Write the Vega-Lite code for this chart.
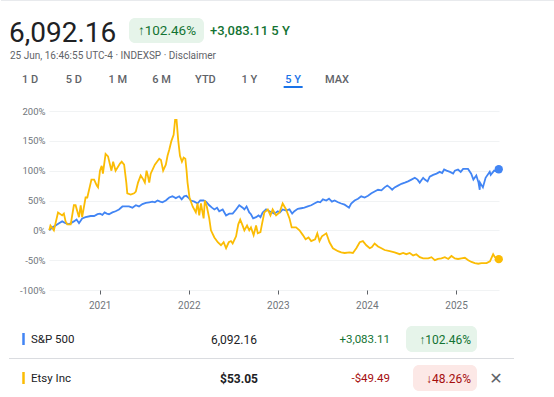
{
  "$schema": "https://vega.github.io/schema/vega-lite/v6.json",
  "padding": 0,
  "background": "white",
  "spacing": 0,
  "config": {"view": {"stroke": null}, "font": "Roboto", "concat": {"spacing": 0}},
  "datasets": {
    "prices": [
      {"stock":"S&P 500","date":"2020-06-08","pct":0},{"stock":"S&P 500","date":"2020-06-21","pct":5},{"stock":"S&P 500","date":"2020-07-04","pct":8},{"stock":"S&P 500","date":"2020-07-18","pct":12},{"stock":"S&P 500","date":"2020-07-31","pct":15},{"stock":"S&P 500","date":"2020-08-14","pct":12},{"stock":"S&P 500","date":"2020-08-28","pct":10},{"stock":"S&P 500","date":"2020-09-17","pct":15},{"stock":"S&P 500","date":"2020-09-28","pct":18},{"stock":"S&P 500","date":"2020-10-08","pct":12},{"stock":"S&P 500","date":"2020-10-21","pct":20},{"stock":"S&P 500","date":"2020-11-04","pct":22},{"stock":"S&P 500","date":"2020-11-25","pct":24},{"stock":"S&P 500","date":"2020-12-09","pct":24},{"stock":"S&P 500","date":"2020-12-23","pct":27},
      {"stock":"S&P 500","date":"2021-01-02","pct":28},{"stock":"S&P 500","date":"2021-01-12","pct":26},{"stock":"S&P 500","date":"2021-01-21","pct":30},{"stock":"S&P 500","date":"2021-01-30","pct":28},{"stock":"S&P 500","date":"2021-02-08","pct":27},{"stock":"S&P 500","date":"2021-02-22","pct":30},{"stock":"S&P 500","date":"2021-03-07","pct":32},{"stock":"S&P 500","date":"2021-03-21","pct":35},{"stock":"S&P 500","date":"2021-04-04","pct":40},{"stock":"S&P 500","date":"2021-04-17","pct":40},{"stock":"S&P 500","date":"2021-05-01","pct":40},{"stock":"S&P 500","date":"2021-05-15","pct":38},{"stock":"S&P 500","date":"2021-05-29","pct":42},{"stock":"S&P 500","date":"2021-06-11","pct":40},{"stock":"S&P 500","date":"2021-06-25","pct":44},{"stock":"S&P 500","date":"2021-07-09","pct":46},{"stock":"S&P 500","date":"2021-07-23","pct":47},{"stock":"S&P 500","date":"2021-08-05","pct":48},{"stock":"S&P 500","date":"2021-08-15","pct":47},{"stock":"S&P 500","date":"2021-08-26","pct":50},{"stock":"S&P 500","date":"2021-09-06","pct":48},{"stock":"S&P 500","date":"2021-09-15","pct":47},{"stock":"S&P 500","date":"2021-09-29","pct":50},{"stock":"S&P 500","date":"2021-10-13","pct":55},{"stock":"S&P 500","date":"2021-10-26","pct":57},{"stock":"S&P 500","date":"2021-11-09","pct":54},{"stock":"S&P 500","date":"2021-11-23","pct":57},{"stock":"S&P 500","date":"2021-12-03","pct":52},{"stock":"S&P 500","date":"2021-12-13","pct":57},{"stock":"S&P 500","date":"2021-12-22","pct":58},{"stock":"S&P 500","date":"2021-12-30","pct":55},
      {"stock":"S&P 500","date":"2022-01-10","pct":50},{"stock":"S&P 500","date":"2022-01-24","pct":48},{"stock":"S&P 500","date":"2022-02-06","pct":45},{"stock":"S&P 500","date":"2022-02-17","pct":50},{"stock":"S&P 500","date":"2022-03-03","pct":50},{"stock":"S&P 500","date":"2022-03-13","pct":48},{"stock":"S&P 500","date":"2022-03-26","pct":42},{"stock":"S&P 500","date":"2022-04-06","pct":38},{"stock":"S&P 500","date":"2022-04-16","pct":35},{"stock":"S&P 500","date":"2022-04-27","pct":38},{"stock":"S&P 500","date":"2022-05-06","pct":32},{"stock":"S&P 500","date":"2022-05-20","pct":35},{"stock":"S&P 500","date":"2022-06-03","pct":25},{"stock":"S&P 500","date":"2022-06-16","pct":28},{"stock":"S&P 500","date":"2022-06-30","pct":28},{"stock":"S&P 500","date":"2022-07-14","pct":35},{"stock":"S&P 500","date":"2022-07-27","pct":42},{"stock":"S&P 500","date":"2022-08-10","pct":38},{"stock":"S&P 500","date":"2022-08-17","pct":35},{"stock":"S&P 500","date":"2022-08-26","pct":40},{"stock":"S&P 500","date":"2022-09-06","pct":30},{"stock":"S&P 500","date":"2022-09-13","pct":27},{"stock":"S&P 500","date":"2022-09-22","pct":20},{"stock":"S&P 500","date":"2022-10-04","pct":22},{"stock":"S&P 500","date":"2022-10-14","pct":25},{"stock":"S&P 500","date":"2022-10-22","pct":22},{"stock":"S&P 500","date":"2022-10-31","pct":30},{"stock":"S&P 500","date":"2022-11-14","pct":35},{"stock":"S&P 500","date":"2022-11-28","pct":32},{"stock":"S&P 500","date":"2022-12-09","pct":30},{"stock":"S&P 500","date":"2022-12-18","pct":28},
      {"stock":"S&P 500","date":"2023-01-01","pct":32},{"stock":"S&P 500","date":"2023-01-10","pct":30},{"stock":"S&P 500","date":"2023-01-21","pct":35},{"stock":"S&P 500","date":"2023-02-04","pct":33},{"stock":"S&P 500","date":"2023-02-18","pct":35},{"stock":"S&P 500","date":"2023-03-01","pct":28},{"stock":"S&P 500","date":"2023-03-10","pct":32},{"stock":"S&P 500","date":"2023-03-24","pct":36},{"stock":"S&P 500","date":"2023-04-07","pct":37},{"stock":"S&P 500","date":"2023-04-20","pct":38},{"stock":"S&P 500","date":"2023-05-04","pct":40},{"stock":"S&P 500","date":"2023-05-18","pct":42},{"stock":"S&P 500","date":"2023-05-31","pct":45},{"stock":"S&P 500","date":"2023-06-14","pct":48},{"stock":"S&P 500","date":"2023-06-24","pct":47},{"stock":"S&P 500","date":"2023-07-05","pct":52},{"stock":"S&P 500","date":"2023-07-19","pct":50},{"stock":"S&P 500","date":"2023-07-30","pct":53},{"stock":"S&P 500","date":"2023-08-11","pct":48},{"stock":"S&P 500","date":"2023-08-22","pct":50},{"stock":"S&P 500","date":"2023-09-05","pct":47},{"stock":"S&P 500","date":"2023-09-18","pct":45},{"stock":"S&P 500","date":"2023-10-02","pct":43},{"stock":"S&P 500","date":"2023-10-13","pct":40},{"stock":"S&P 500","date":"2023-10-20","pct":38},{"stock":"S&P 500","date":"2023-10-29","pct":45},{"stock":"S&P 500","date":"2023-11-12","pct":50},{"stock":"S&P 500","date":"2023-11-26","pct":53},{"stock":"S&P 500","date":"2023-12-09","pct":57},{"stock":"S&P 500","date":"2023-12-23","pct":55},
      {"stock":"S&P 500","date":"2024-01-06","pct":58},{"stock":"S&P 500","date":"2024-01-20","pct":62},{"stock":"S&P 500","date":"2024-02-02","pct":65},{"stock":"S&P 500","date":"2024-02-16","pct":68},{"stock":"S&P 500","date":"2024-03-01","pct":67},{"stock":"S&P 500","date":"2024-03-14","pct":72},{"stock":"S&P 500","date":"2024-03-25","pct":75},{"stock":"S&P 500","date":"2024-04-04","pct":72},{"stock":"S&P 500","date":"2024-04-14","pct":68},{"stock":"S&P 500","date":"2024-04-24","pct":72},{"stock":"S&P 500","date":"2024-05-08","pct":75},{"stock":"S&P 500","date":"2024-05-22","pct":78},{"stock":"S&P 500","date":"2024-06-05","pct":80},{"stock":"S&P 500","date":"2024-06-18","pct":82},{"stock":"S&P 500","date":"2024-07-02","pct":85},{"stock":"S&P 500","date":"2024-07-16","pct":88},{"stock":"S&P 500","date":"2024-07-27","pct":85},{"stock":"S&P 500","date":"2024-08-05","pct":80},{"stock":"S&P 500","date":"2024-08-19","pct":88},{"stock":"S&P 500","date":"2024-08-26","pct":85},{"stock":"S&P 500","date":"2024-09-06","pct":82},{"stock":"S&P 500","date":"2024-09-15","pct":90},{"stock":"S&P 500","date":"2024-09-29","pct":93},{"stock":"S&P 500","date":"2024-10-13","pct":95},{"stock":"S&P 500","date":"2024-10-26","pct":98},{"stock":"S&P 500","date":"2024-11-05","pct":96},{"stock":"S&P 500","date":"2024-11-13","pct":102},{"stock":"S&P 500","date":"2024-11-23","pct":100},{"stock":"S&P 500","date":"2024-12-07","pct":98},{"stock":"S&P 500","date":"2024-12-20","pct":95},{"stock":"S&P 500","date":"2024-12-27","pct":100},
      {"stock":"S&P 500","date":"2025-01-09","pct":102},{"stock":"S&P 500","date":"2025-01-20","pct":98},{"stock":"S&P 500","date":"2025-01-30","pct":103},{"stock":"S&P 500","date":"2025-02-19","pct":103},{"stock":"S&P 500","date":"2025-03-04","pct":95},{"stock":"S&P 500","date":"2025-03-13","pct":85},{"stock":"S&P 500","date":"2025-03-25","pct":92},{"stock":"S&P 500","date":"2025-04-03","pct":80},{"stock":"S&P 500","date":"2025-04-08","pct":68},{"stock":"S&P 500","date":"2025-04-09","pct":80},{"stock":"S&P 500","date":"2025-04-21","pct":72},{"stock":"S&P 500","date":"2025-05-02","pct":88},{"stock":"S&P 500","date":"2025-05-19","pct":98},{"stock":"S&P 500","date":"2025-05-23","pct":93},{"stock":"S&P 500","date":"2025-06-06","pct":100},{"stock":"S&P 500","date":"2025-06-13","pct":99},{"stock":"S&P 500","date":"2025-06-25","pct":102.46},

      {"stock":"Etsy Inc","date":"2020-06-08","pct":0},{"stock":"Etsy Inc","date":"2020-06-13","pct":8},{"stock":"Etsy Inc","date":"2020-06-27","pct":0},{"stock":"Etsy Inc","date":"2020-07-14","pct":30},{"stock":"Etsy Inc","date":"2020-07-31","pct":25},{"stock":"Etsy Inc","date":"2020-08-07","pct":28},{"stock":"Etsy Inc","date":"2020-08-14","pct":15},{"stock":"Etsy Inc","date":"2020-08-21","pct":10},{"stock":"Etsy Inc","date":"2020-09-04","pct":10},{"stock":"Etsy Inc","date":"2020-09-17","pct":42},{"stock":"Etsy Inc","date":"2020-09-24","pct":42},{"stock":"Etsy Inc","date":"2020-10-08","pct":22},{"stock":"Etsy Inc","date":"2020-10-15","pct":42},{"stock":"Etsy Inc","date":"2020-10-21","pct":22},{"stock":"Etsy Inc","date":"2020-11-04","pct":55},{"stock":"Etsy Inc","date":"2020-11-11","pct":55},{"stock":"Etsy Inc","date":"2020-11-28","pct":85},{"stock":"Etsy Inc","date":"2020-12-09","pct":85},{"stock":"Etsy Inc","date":"2020-12-20","pct":75},{"stock":"Etsy Inc","date":"2020-12-25","pct":72},
      {"stock":"Etsy Inc","date":"2021-01-02","pct":100},{"stock":"Etsy Inc","date":"2021-01-09","pct":108},{"stock":"Etsy Inc","date":"2021-01-14","pct":95},{"stock":"Etsy Inc","date":"2021-01-25","pct":128},{"stock":"Etsy Inc","date":"2021-02-04","pct":124},{"stock":"Etsy Inc","date":"2021-02-18","pct":100},{"stock":"Etsy Inc","date":"2021-02-25","pct":115},{"stock":"Etsy Inc","date":"2021-03-07","pct":100},{"stock":"Etsy Inc","date":"2021-03-25","pct":112},{"stock":"Etsy Inc","date":"2021-04-01","pct":115},{"stock":"Etsy Inc","date":"2021-04-11","pct":110},{"stock":"Etsy Inc","date":"2021-04-20","pct":80},{"stock":"Etsy Inc","date":"2021-04-24","pct":62},{"stock":"Etsy Inc","date":"2021-05-08","pct":60},{"stock":"Etsy Inc","date":"2021-05-22","pct":62},{"stock":"Etsy Inc","date":"2021-05-29","pct":65},{"stock":"Etsy Inc","date":"2021-06-07","pct":80},{"stock":"Etsy Inc","date":"2021-06-18","pct":92},{"stock":"Etsy Inc","date":"2021-06-29","pct":85},{"stock":"Etsy Inc","date":"2021-07-05","pct":80},{"stock":"Etsy Inc","date":"2021-07-12","pct":100},{"stock":"Etsy Inc","date":"2021-07-17","pct":92},{"stock":"Etsy Inc","date":"2021-07-23","pct":80},{"stock":"Etsy Inc","date":"2021-07-29","pct":95},{"stock":"Etsy Inc","date":"2021-08-15","pct":110},{"stock":"Etsy Inc","date":"2021-09-02","pct":120},{"stock":"Etsy Inc","date":"2021-09-09","pct":118},{"stock":"Etsy Inc","date":"2021-09-18","pct":100},{"stock":"Etsy Inc","date":"2021-09-29","pct":110},{"stock":"Etsy Inc","date":"2021-10-06","pct":125},{"stock":"Etsy Inc","date":"2021-10-13","pct":135},{"stock":"Etsy Inc","date":"2021-10-22","pct":150},{"stock":"Etsy Inc","date":"2021-10-31","pct":160},{"stock":"Etsy Inc","date":"2021-11-06","pct":185},{"stock":"Etsy Inc","date":"2021-11-12","pct":185},{"stock":"Etsy Inc","date":"2021-11-19","pct":150},{"stock":"Etsy Inc","date":"2021-11-26","pct":125},{"stock":"Etsy Inc","date":"2021-12-04","pct":115},{"stock":"Etsy Inc","date":"2021-12-11","pct":122},{"stock":"Etsy Inc","date":"2021-12-18","pct":120},{"stock":"Etsy Inc","date":"2021-12-23","pct":100},{"stock":"Etsy Inc","date":"2021-12-27","pct":80},
      {"stock":"Etsy Inc","date":"2022-01-04","pct":55},{"stock":"Etsy Inc","date":"2022-01-17","pct":40},{"stock":"Etsy Inc","date":"2022-01-30","pct":30},{"stock":"Etsy Inc","date":"2022-02-06","pct":45},{"stock":"Etsy Inc","date":"2022-02-13","pct":25},{"stock":"Etsy Inc","date":"2022-02-20","pct":45},{"stock":"Etsy Inc","date":"2022-03-03","pct":20},{"stock":"Etsy Inc","date":"2022-03-08","pct":50},{"stock":"Etsy Inc","date":"2022-03-16","pct":40},{"stock":"Etsy Inc","date":"2022-03-26","pct":20},{"stock":"Etsy Inc","date":"2022-04-02","pct":0},{"stock":"Etsy Inc","date":"2022-04-16","pct":-12},{"stock":"Etsy Inc","date":"2022-04-30","pct":-20},{"stock":"Etsy Inc","date":"2022-05-13","pct":-25},{"stock":"Etsy Inc","date":"2022-05-24","pct":-20},{"stock":"Etsy Inc","date":"2022-06-03","pct":-30},{"stock":"Etsy Inc","date":"2022-06-14","pct":-20},{"stock":"Etsy Inc","date":"2022-06-23","pct":-18},{"stock":"Etsy Inc","date":"2022-06-30","pct":-22},{"stock":"Etsy Inc","date":"2022-07-14","pct":-10},{"stock":"Etsy Inc","date":"2022-07-23","pct":10},{"stock":"Etsy Inc","date":"2022-07-31","pct":18},{"stock":"Etsy Inc","date":"2022-08-08","pct":10},{"stock":"Etsy Inc","date":"2022-08-17","pct":0},{"stock":"Etsy Inc","date":"2022-08-28","pct":8},{"stock":"Etsy Inc","date":"2022-09-06","pct":0},{"stock":"Etsy Inc","date":"2022-09-13","pct":5},{"stock":"Etsy Inc","date":"2022-09-24","pct":-8},{"stock":"Etsy Inc","date":"2022-10-04","pct":8},{"stock":"Etsy Inc","date":"2022-10-11","pct":-5},{"stock":"Etsy Inc","date":"2022-10-22","pct":-3},{"stock":"Etsy Inc","date":"2022-10-28","pct":10},{"stock":"Etsy Inc","date":"2022-11-07","pct":30},{"stock":"Etsy Inc","date":"2022-11-21","pct":35},{"stock":"Etsy Inc","date":"2022-12-02","pct":25},{"stock":"Etsy Inc","date":"2022-12-11","pct":35},{"stock":"Etsy Inc","date":"2022-12-25","pct":25},
      {"stock":"Etsy Inc","date":"2023-01-08","pct":30},{"stock":"Etsy Inc","date":"2023-01-21","pct":45},{"stock":"Etsy Inc","date":"2023-02-04","pct":35},{"stock":"Etsy Inc","date":"2023-02-18","pct":20},{"stock":"Etsy Inc","date":"2023-02-27","pct":5},{"stock":"Etsy Inc","date":"2023-03-17","pct":5},{"stock":"Etsy Inc","date":"2023-03-31","pct":0},{"stock":"Etsy Inc","date":"2023-04-14","pct":-8},{"stock":"Etsy Inc","date":"2023-04-25","pct":-15},{"stock":"Etsy Inc","date":"2023-05-07","pct":-12},{"stock":"Etsy Inc","date":"2023-05-18","pct":-18},{"stock":"Etsy Inc","date":"2023-06-03","pct":-15},{"stock":"Etsy Inc","date":"2023-06-12","pct":-5},{"stock":"Etsy Inc","date":"2023-06-21","pct":-18},{"stock":"Etsy Inc","date":"2023-07-01","pct":-10},{"stock":"Etsy Inc","date":"2023-07-19","pct":-5},{"stock":"Etsy Inc","date":"2023-08-01","pct":-20},{"stock":"Etsy Inc","date":"2023-08-15","pct":-30},{"stock":"Etsy Inc","date":"2023-09-05","pct":-35},{"stock":"Etsy Inc","date":"2023-09-18","pct":-37},{"stock":"Etsy Inc","date":"2023-10-02","pct":-38},{"stock":"Etsy Inc","date":"2023-10-22","pct":-37},{"stock":"Etsy Inc","date":"2023-11-05","pct":-38},{"stock":"Etsy Inc","date":"2023-11-19","pct":-30},{"stock":"Etsy Inc","date":"2023-12-03","pct":-20},{"stock":"Etsy Inc","date":"2023-12-16","pct":-18},{"stock":"Etsy Inc","date":"2023-12-30","pct":-25},
      {"stock":"Etsy Inc","date":"2024-01-13","pct":-30},{"stock":"Etsy Inc","date":"2024-01-22","pct":-28},{"stock":"Etsy Inc","date":"2024-02-02","pct":-22},{"stock":"Etsy Inc","date":"2024-02-16","pct":-27},{"stock":"Etsy Inc","date":"2024-03-01","pct":-30},{"stock":"Etsy Inc","date":"2024-03-14","pct":-33},{"stock":"Etsy Inc","date":"2024-04-04","pct":-35},{"stock":"Etsy Inc","date":"2024-04-24","pct":-37},{"stock":"Etsy Inc","date":"2024-05-15","pct":-40},{"stock":"Etsy Inc","date":"2024-05-29","pct":-38},{"stock":"Etsy Inc","date":"2024-06-11","pct":-40},{"stock":"Etsy Inc","date":"2024-06-25","pct":-38},{"stock":"Etsy Inc","date":"2024-07-09","pct":-42},{"stock":"Etsy Inc","date":"2024-07-22","pct":-40},{"stock":"Etsy Inc","date":"2024-08-05","pct":-45},{"stock":"Etsy Inc","date":"2024-08-19","pct":-47},{"stock":"Etsy Inc","date":"2024-09-09","pct":-47},{"stock":"Etsy Inc","date":"2024-09-22","pct":-45},{"stock":"Etsy Inc","date":"2024-10-06","pct":-50},{"stock":"Etsy Inc","date":"2024-10-19","pct":-48},{"stock":"Etsy Inc","date":"2024-11-02","pct":-47},{"stock":"Etsy Inc","date":"2024-11-16","pct":-45},{"stock":"Etsy Inc","date":"2024-11-30","pct":-48},{"stock":"Etsy Inc","date":"2024-12-13","pct":-43},{"stock":"Etsy Inc","date":"2024-12-27","pct":-47},
      {"stock":"Etsy Inc","date":"2025-01-09","pct":-48},{"stock":"Etsy Inc","date":"2025-01-23","pct":-47},{"stock":"Etsy Inc","date":"2025-02-06","pct":-46},{"stock":"Etsy Inc","date":"2025-02-20","pct":-50},{"stock":"Etsy Inc","date":"2025-03-05","pct":-53},{"stock":"Etsy Inc","date":"2025-03-19","pct":-55},{"stock":"Etsy Inc","date":"2025-04-02","pct":-56},{"stock":"Etsy Inc","date":"2025-04-15","pct":-55},{"stock":"Etsy Inc","date":"2025-05-06","pct":-55},{"stock":"Etsy Inc","date":"2025-05-20","pct":-52},{"stock":"Etsy Inc","date":"2025-06-02","pct":-40},{"stock":"Etsy Inc","date":"2025-06-09","pct":-45},{"stock":"Etsy Inc","date":"2025-06-25","pct":-48.26}
    ],
    "table": [
      {"name":"S&P 500","price":"6,092.16","change":"+3,083.11","pct":"↑102.46%"},
      {"name":"Etsy Inc","price":"$53.05","change":"-$49.49","pct":"↓48.26%"}
    ],
    "tabs": [{"tab":"1 D"},{"tab":"5 D"},{"tab":"1 M"},{"tab":"6 M"},{"tab":"YTD"},{"tab":"1 Y"},{"tab":"5 Y"},{"tab":"MAX"}]
  },
  "vconcat": [
    {
      "width": 506,
      "height": 106,
      "layer": [
        {"data": {"values": [{}]}, "mark": {"type": "rule", "color": "#e8eaed", "strokeWidth": 1}, "encoding": {"x": {"value": -48}, "x2": {"value": 506}, "y": {"value": 0.5}}},
        {"data": {"values": [{"label": "6,092.16"}]}, "mark": {"type": "text", "align": "left", "baseline": "alphabetic", "fontSize": 28, "color": "#202124", "x": -40, "y": 42}, "encoding": {"text": {"field": "label"}}},
        {"data": {"values": [{}]}, "mark": {"type": "rect", "fill": "#e6f4ea", "cornerRadius": 6}, "encoding": {"x": {"value": 80}, "x2": {"value": 155}, "y": {"value": 18}, "y2": {"value": 43}}},
        {"data": {"values": [{"label": "↑102.46%"}]}, "mark": {"type": "text", "align": "center", "baseline": "alphabetic", "fontSize": 13.5, "color": "#137333", "x": 118, "y": 35}, "encoding": {"text": {"field": "label"}}},
        {"data": {"values": [{"label": "+3,083.11 5 Y"}]}, "mark": {"type": "text", "align": "left", "baseline": "alphabetic", "fontSize": 13, "fontWeight": 500, "color": "#137333", "x": 161, "y": 35}, "encoding": {"text": {"field": "label"}}},
        {"data": {"values": [{"label": "25 Jun, 16:46:55 UTC-4 · INDEXSP · Disclaimer"}]}, "mark": {"type": "text", "align": "left", "baseline": "alphabetic", "fontSize": 10, "color": "#5f6368", "x": -39, "y": 59}, "encoding": {"text": {"field": "label"}}},
        {"data": {"name": "tabs"}, "mark": {"type": "text", "align": "center", "baseline": "alphabetic", "fontSize": 11, "fontWeight": 500, "y": 83},
         "encoding": {"x": {"field": "tab", "type": "ordinal", "sort": null, "scale": {"type": "point", "range": [-19, 288], "padding": 0}, "axis": null}, "text": {"field": "tab"}, "color": {"condition": {"test": "datum.tab === '5 Y'", "value": "#1a73e8"}, "value": "#5f6368"}}},
        {"data": {"values": [{"tab": "5 Y"}]}, "mark": {"type": "tick", "orient": "horizontal", "size": 19, "thickness": 2, "color": "#1a73e8", "y": 87, "opacity": 1},
         "encoding": {"x": {"field": "tab", "type": "ordinal", "sort": null, "axis": null}}}
      ]
    },
    {
      "width": 450,
      "height": 179,
      "data": {"name": "prices"},
      "encoding": {
        "x": {"field": "date", "type": "temporal",
              "scale": {"domain": [{"year": 2020, "month": 6, "date": 7}, {"year": 2025, "month": 6, "date": 26}], "nice": false},
              "axis": {"title": null, "tickCount": {"interval": "year", "step": 1}, "format": "%Y", "domain": false, "grid": false, "ticks": true, "tickSize": 4, "tickColor": "#5f6368", "labelColor": "#70757a", "labelFontSize": 10, "labelPadding": 6}},
        "y": {"field": "pct", "type": "quantitative",
              "scale": {"domain": [-100, 200], "nice": false},
              "axis": {"title": null, "values": [-100, -50, 0, 50, 100, 150, 200], "labelExpr": "datum.value + '%'", "domain": false, "ticks": false, "grid": true, "gridColor": "#f1f3f4", "labelColor": "#70757a", "labelFontSize": 9.5, "labelPadding": 4, "minExtent": 48, "maxExtent": 48}},
        "color": {"field": "stock", "type": "nominal", "scale": {"domain": ["S&P 500", "Etsy Inc"], "range": ["#4285f4", "#fbbc04"]}, "legend": null}
      },
      "layer": [
        {"data": {"values": [{}]}, "mark": {"type": "rule", "color": "#80868b", "strokeWidth": 1}, "encoding": {"y": {"datum": 0}, "x": null, "color": null}},
        {"transform": [{"filter": "datum.stock === 'S&P 500'"}], "mark": {"type": "line", "strokeWidth": 1.8}},
        {"transform": [{"filter": "datum.stock === 'Etsy Inc'"}], "mark": {"type": "line", "strokeWidth": 1.8}},
        {"transform": [{"window": [{"op": "rank", "as": "r"}], "sort": [{"field": "date", "order": "descending"}], "groupby": ["stock"]}, {"filter": "datum.r === 1"}],
         "mark": {"type": "circle", "size": 70, "opacity": 1}}
      ]
    },
    {
      "width": 506,
      "height": 86,
      "data": {"name": "table"},
      "encoding": {"y": {"field": "name", "type": "nominal", "sort": null, "scale": {"type": "point", "range": [29, 68], "padding": 0}, "axis": null}},
      "layer": [
        {"data": {"values": [{}]}, "mark": {"type": "rule", "color": "#dadce0", "strokeWidth": 1}, "encoding": {"y": {"value": 48.5}, "x": {"value": -40}, "x2": {"value": 465}}},
        {"mark": {"type": "tick", "orient": "vertical", "size": 12, "thickness": 2.5, "x": -25.5, "opacity": 1},
         "encoding": {"color": {"field": "name", "type": "nominal", "scale": {"domain": ["S&P 500", "Etsy Inc"], "range": ["#4285f4", "#fbbc04"]}, "legend": null}}},
        {"mark": {"type": "text", "align": "left", "baseline": "middle", "fontSize": 11.5, "color": "#202124", "x": -18, "dy": 1}, "encoding": {"text": {"field": "name"}}},
        {"transform": [{"filter": "datum.name === 'S&P 500'"}], "mark": {"type": "text", "align": "right", "baseline": "middle", "fontSize": 12, "color": "#202124", "x": 208, "dy": 1}, "encoding": {"text": {"field": "price"}}},
        {"transform": [{"filter": "datum.name === 'Etsy Inc'"}], "mark": {"type": "text", "align": "right", "baseline": "middle", "fontSize": 12, "fontWeight": 700, "color": "#202124", "x": 209, "dy": 1}, "encoding": {"text": {"field": "price"}}},
        {"mark": {"type": "text", "align": "right", "baseline": "middle", "fontSize": 11.5, "x": 341, "dy": 1},
         "encoding": {"text": {"field": "change"}, "color": {"condition": {"test": "datum.name === 'Etsy Inc'", "value": "#a50e0e"}, "value": "#137333"}}},
        {"transform": [{"filter": "datum.name === 'S&P 500'"}], "mark": {"type": "tick", "orient": "horizontal", "size": 71, "thickness": 26, "cornerRadius": 6, "color": "#e6f4ea", "x": 392.5, "opacity": 1}},
        {"transform": [{"filter": "datum.name === 'Etsy Inc'"}], "mark": {"type": "tick", "orient": "horizontal", "size": 64, "thickness": 26, "cornerRadius": 6, "color": "#fce8e6", "x": 396, "opacity": 1}},
        {"mark": {"type": "text", "align": "right", "baseline": "middle", "fontSize": 12, "x": 422, "dy": 1},
         "encoding": {"text": {"field": "pct"}, "color": {"condition": {"test": "datum.name === 'Etsy Inc'", "value": "#a50e0e"}, "value": "#137333"}}},
        {"transform": [{"filter": "datum.name === 'Etsy Inc'"}], "mark": {"type": "text", "text": "✕", "align": "center", "baseline": "middle", "fontSize": 16, "font": "DejaVu Sans", "color": "#5f6368", "x": 447, "dy": 1}}
      ]
    }
  ]
}
